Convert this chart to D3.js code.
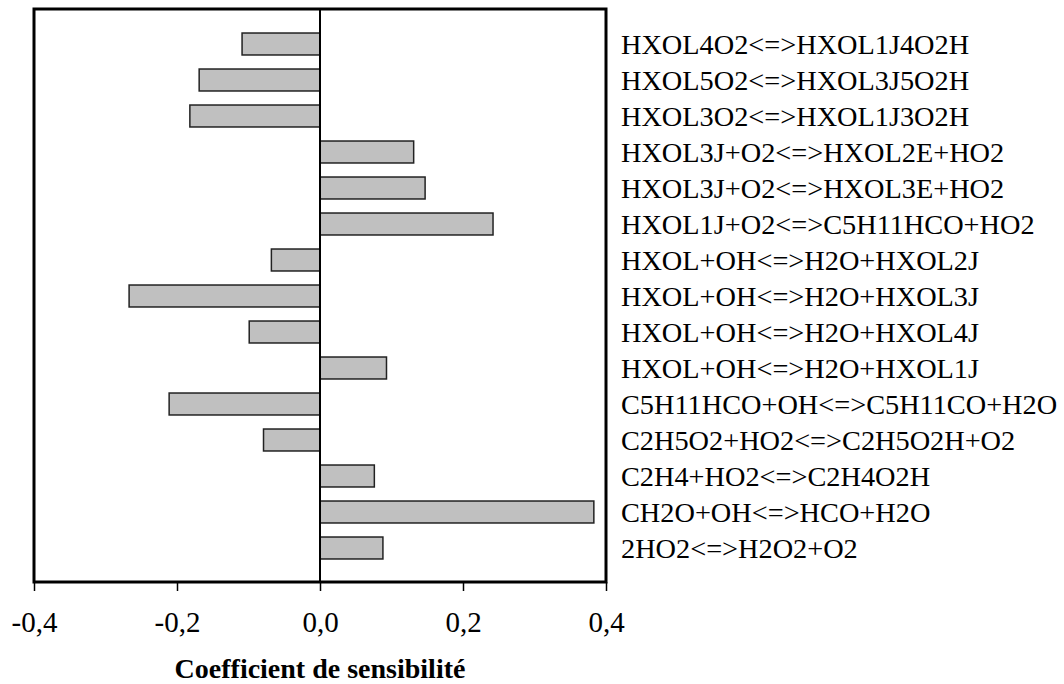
<!DOCTYPE html>
<html>
<head>
<meta charset="utf-8">
<script src="https://d3js.org/d3.v7.min.js"></script>
<style>
body { margin: 0; background: #fff; }
text { font-family: "Liberation Serif", "Times New Roman", serif; fill: #000; }
</style>
</head>
<body>
<script>
var w = 1064;
var h = 684;

var reactions = [
  "HXOL4O2<=>HXOL1J4O2H",
  "HXOL5O2<=>HXOL3J5O2H",
  "HXOL3O2<=>HXOL1J3O2H",
  "HXOL3J+O2<=>HXOL2E+HO2",
  "HXOL3J+O2<=>HXOL3E+HO2",
  "HXOL1J+O2<=>C5H11HCO+HO2",
  "HXOL+OH<=>H2O+HXOL2J",
  "HXOL+OH<=>H2O+HXOL3J",
  "HXOL+OH<=>H2O+HXOL4J",
  "HXOL+OH<=>H2O+HXOL1J",
  "C5H11HCO+OH<=>C5H11CO+H2O",
  "C2H5O2+HO2<=>C2H5O2H+O2",
  "C2H4+HO2<=>C2H4O2H",
  "CH2O+OH<=>HCO+H2O",
  "2HO2<=>H2O2+O2"
];
var coeffs = [-0.109, -0.169, -0.182, 0.131, 0.147, 0.242, -0.068, -0.267, -0.099, 0.093, -0.211, -0.079, 0.076, 0.383, 0.088];
var tickValues = [-0.4, -0.2, 0.0, 0.2, 0.4];
var axisTitle = "Coefficient de sensibilité";

// plot frame
var pl = 34, pr = 606, pt = 9, pb = 582;

var svg = d3.select("body")
            .append("svg")
            .attr("width", w)
            .attr("height", h);

var x = d3.scaleLinear().domain([-0.4, 0.4]).range([pl, pr]);
var y = d3.scaleBand().domain(reactions).range([26, 566]).paddingInner(0.39).paddingOuter(0.195);

// bars
svg.selectAll("rect.bar")
   .data(coeffs)
   .enter()
   .append("rect")
   .attr("class", "bar")
   .attr("x", function(d){ return x(Math.min(0, d)); })
   .attr("y", function(d, i){ return y(reactions[i]); })
   .attr("width", function(d){ return Math.abs(x(d) - x(0)); })
   .attr("height", y.bandwidth())
   .attr("fill", "#c0c0c0")
   .attr("stroke", "#222")
   .attr("stroke-width", 1.5);

// zero line
svg.append("line")
   .attr("x1", x(0)).attr("x2", x(0))
   .attr("y1", pt).attr("y2", pb)
   .attr("stroke", "#000")
   .attr("stroke-width", 2);

// frame
svg.append("rect")
   .attr("x", pl).attr("y", pt)
   .attr("width", pr - pl).attr("height", pb - pt)
   .attr("fill", "none")
   .attr("stroke", "#000")
   .attr("stroke-width", 3);

// x axis
var xAxis = d3.axisBottom(x)
  .tickValues(tickValues)
  .tickSize(9)
  .tickSizeOuter(0)
  .tickPadding(20)
  .tickFormat(function(d){ return d3.format(".1f")(d).replace("−", "-").replace(".", ","); });

var gx = svg.append("g")
  .attr("transform", "translate(0," + pb + ")")
  .call(xAxis);
gx.select(".domain").remove();
gx.selectAll(".tick line").attr("stroke", "#000").attr("stroke-width", 1.5);
gx.selectAll(".tick text")
  .attr("font-family", "Liberation Serif")
  .attr("font-size", 29)
  .attr("fill", "#000");

// axis title
svg.append("text")
   .attr("x", x(0))
   .attr("y", 678)
   .attr("text-anchor", "middle")
   .attr("font-size", 28)
   .attr("font-weight", "bold")
   .text(axisTitle);

// reaction labels
svg.selectAll("text.label")
   .data(reactions)
   .enter()
   .append("text")
   .attr("class", "label")
   .attr("x", 621)
   .attr("y", function(d){ return y(d) + y.bandwidth() / 2 + 10; })
   .attr("font-size", 28.3)
   .text(function(d){ return d; });
</script>
</body>
</html>
